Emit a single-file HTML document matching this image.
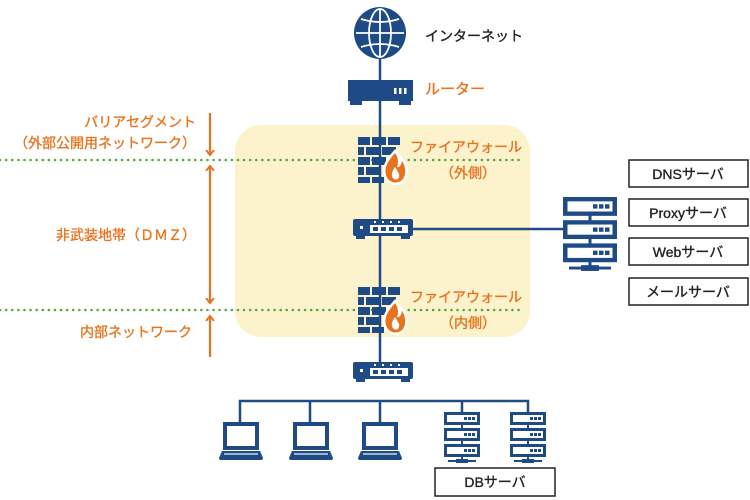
<!DOCTYPE html>
<html><head><meta charset="utf-8"><style>
html,body{margin:0;padding:0;background:#fff}
svg{display:block}
text{font-family:"Liberation Sans","Noto Sans CJK JP",sans-serif}
</style></head><body>
<svg width="750" height="500" viewBox="0 0 750 500" xmlns="http://www.w3.org/2000/svg">
<defs>
<g id="fw">
 <g fill="#1e4a86">
  <rect x="0" y="0" width="12" height="8"/><rect x="14" y="0" width="14" height="8"/><rect x="30" y="0" width="12" height="8"/>
  <rect x="0" y="10" width="6" height="8"/><rect x="8" y="10" width="14" height="8"/><rect x="24" y="10" width="14" height="8"/>
  <rect x="0" y="20" width="12" height="8"/><rect x="14" y="20" width="14" height="8"/>
  <rect x="0" y="30" width="6" height="8"/><rect x="8" y="30" width="14" height="8"/>
  <rect x="0" y="40" width="12" height="6"/><rect x="14" y="40" width="12" height="6"/>
 </g>
 <path d="M37 16 C30 24 26 30 28 38 C30 46 40 48 45 42 C49 36 47 28 44 24 C43 29 41 31 39 30 C41 25 40 20 37 16 Z" fill="#fff" stroke="#fff" stroke-width="5"/>
 <path d="M37 16 C30 24 26 30 28 38 C30 46 40 48 45 42 C49 36 47 28 44 24 C43 29 41 31 39 30 C41 25 40 20 37 16 Z" fill="#e8731f"/>
 <path d="M37 30 C33 35 33 40 36 42 C39 44 42 41 41 37 C40 35 39 33 37 30Z" fill="#fff"/>
</g>
<g id="sw">
 <rect x="0" y="0" width="60" height="17" rx="2" fill="#1e4a86"/>
 <rect x="3" y="17" width="9" height="3" fill="#1e4a86"/><rect x="48" y="17" width="9" height="3" fill="#1e4a86"/>
 <rect x="7" y="7" width="3" height="3" fill="#fff"/>
 <rect x="17" y="6" width="38" height="8" fill="#fff"/>
 <g fill="#1e4a86"><rect x="20" y="8" width="5" height="4"/><rect x="28" y="8" width="5" height="4"/><rect x="36" y="8" width="5" height="4"/><rect x="44" y="8" width="5" height="4"/></g>
 <g fill="#fff"><rect x="21" y="2" width="2" height="2"/><rect x="29" y="2" width="2" height="2"/><rect x="37" y="2" width="2" height="2"/><rect x="45" y="2" width="2" height="2"/></g>
</g>
<g id="lap">
 <rect x="4" y="0" width="36" height="28" fill="#1e4a86"/>
 <rect x="8" y="4" width="28" height="20" fill="#fff"/>
 <path d="M3 29 H41 L44 36 Q44 38 42 38 H2 Q0 38 0 36 Z" fill="#1e4a86"/>
 <rect x="5" y="31" width="34" height="2" fill="#9fb3cf"/>
</g>
<g id="srv">
 <g fill="#fff" stroke="#1e4a86" stroke-width="3">
  <rect x="1.5" y="1.5" width="33" height="10"/><rect x="1.5" y="17.5" width="33" height="10"/><rect x="1.5" y="33.5" width="33" height="10"/>
 </g>
 <g fill="#1e4a86">
  <rect x="20" y="5" width="3" height="3"/><rect x="24" y="5" width="3" height="3"/><rect x="28" y="5" width="3" height="3"/>
  <rect x="20" y="21" width="3" height="3"/><rect x="24" y="21" width="3" height="3"/><rect x="28" y="21" width="3" height="3"/>
  <rect x="20" y="37" width="3" height="3"/><rect x="24" y="37" width="3" height="3"/><rect x="28" y="37" width="3" height="3"/>
  <rect x="17" y="12" width="2" height="6"/><rect x="17" y="28" width="2" height="6"/><rect x="17" y="44" width="2" height="5"/>
  <rect x="4" y="48" width="28" height="2"/><rect x="12" y="47" width="12" height="4"/>
 </g>
</g>
<marker id="ah" markerWidth="10" markerHeight="10" refX="5" refY="5" orient="auto-start-reverse" markerUnits="userSpaceOnUse">
 <path d="M0 1 L5 5 L0 9" fill="none" stroke="#e8731f" stroke-width="2"/>
</marker>
</defs>

<rect x="235" y="125" width="295" height="212" rx="26" fill="#fcf2cb"/>

<line x1="0" y1="160" x2="520" y2="160" stroke="#5aa53c" stroke-width="2.5" stroke-dasharray="0.1 6" stroke-linecap="round"/>
<line x1="0" y1="310" x2="520" y2="310" stroke="#5aa53c" stroke-width="2.5" stroke-dasharray="0.1 6" stroke-linecap="round"/>

<g stroke="#1e4a86" stroke-width="2.5" fill="none">
 <line x1="380" y1="40" x2="380" y2="366"/>
 <line x1="410" y1="229" x2="566" y2="229"/>
 <path d="M240 422 V401 H528 V412"/>
 <line x1="310" y1="401" x2="310" y2="422"/>
 <line x1="380" y1="401" x2="380" y2="422"/>
 <line x1="462" y1="401" x2="462" y2="412"/>
</g>

<circle cx="380" cy="33" r="26" fill="#1e4a86"/>
<g stroke="#fff" stroke-width="1.8" fill="none">
 <ellipse cx="380" cy="33" rx="11" ry="24"/>
 <line x1="380" y1="9" x2="380" y2="57"/>
 <line x1="356" y1="33" x2="404" y2="33"/>
 <path d="M361 19 Q380 25 399 19"/><path d="M361 47 Q380 41 399 47"/>
</g>
<g stroke-width="0.35">
<text x="425" y="41" font-size="14" fill="#222" stroke="#222">インターネット</text>

<path d="M348 80 H413 V101 H348 Z" fill="#1e4a86" stroke="none"/>
<rect x="350" y="100" width="12" height="5" fill="#1e4a86" stroke="none"/><rect x="399" y="100" width="12" height="5" fill="#1e4a86" stroke="none"/>
<g fill="#fff" stroke="none"><rect x="394" y="88" width="2.5" height="6"/><rect x="399" y="88" width="2.5" height="6"/><rect x="404" y="88" width="2.5" height="6"/></g>
<text x="425" y="94" font-size="15" fill="#e8731f" stroke="#e8731f">ルーター</text>

<text x="410" y="152" font-size="14" fill="#e8731f" stroke="#e8731f">ファイアウォール</text>
<text x="440" y="178" font-size="14" fill="#e8731f" stroke="#e8731f">（外側）</text>
<text x="410" y="302" font-size="14" fill="#e8731f" stroke="#e8731f">ファイアウォール</text>
<text x="440" y="328" font-size="14" fill="#e8731f" stroke="#e8731f">（内側）</text>
</g>
<use href="#fw" x="358" y="137"/>
<use href="#sw" x="353" y="219"/>
<use href="#fw" x="358" y="287"/>
<use href="#sw" x="353" y="362"/>

<g transform="translate(563,197) scale(1.5,1.45)"><use href="#srv"/></g>

<g fill="#fff" stroke="#222" stroke-width="1.5">
 <rect x="629" y="160" width="119" height="27"/>
 <rect x="629" y="199" width="119" height="27"/>
 <rect x="629" y="238" width="119" height="27"/>
 <rect x="629" y="278" width="119" height="27"/>
 <rect x="435" y="468" width="120" height="28"/>
</g>
<g font-size="14" fill="#222" stroke="#222" stroke-width="0.35" text-anchor="middle">
 <text x="688" y="179">DNSサーバ</text>
 <text x="688" y="218">Proxyサーバ</text>
 <text x="688" y="257">Webサーバ</text>
 <text x="688" y="297">メールサーバ</text>
 <text x="495" y="487">DBサーバ</text>
</g>

<use href="#lap" x="219" y="422"/>
<use href="#lap" x="289" y="422"/>
<use href="#lap" x="358" y="422"/>
<use href="#srv" x="444" y="412"/>
<use href="#srv" x="510" y="412"/>

<g font-size="14" fill="#e8731f" stroke="#e8731f" stroke-width="0.35" text-anchor="end">
 <text x="196" y="127">バリアセグメント</text>
 <text x="196" y="148">（外部公開用ネットワーク）</text>
 <text x="196" y="240">非武装地帯（ＤＭＺ）</text>
 <text x="192" y="337">内部ネットワーク</text>
</g>
<g stroke="#e8731f" stroke-width="2.2" fill="none">
 <line x1="210" y1="113" x2="210" y2="155" marker-end="url(#ah)"/>
 <line x1="210" y1="166" x2="210" y2="303" marker-start="url(#ah)" marker-end="url(#ah)"/>
 <line x1="210" y1="357" x2="210" y2="316" marker-end="url(#ah)"/>
</g>
</svg>
</body></html>
